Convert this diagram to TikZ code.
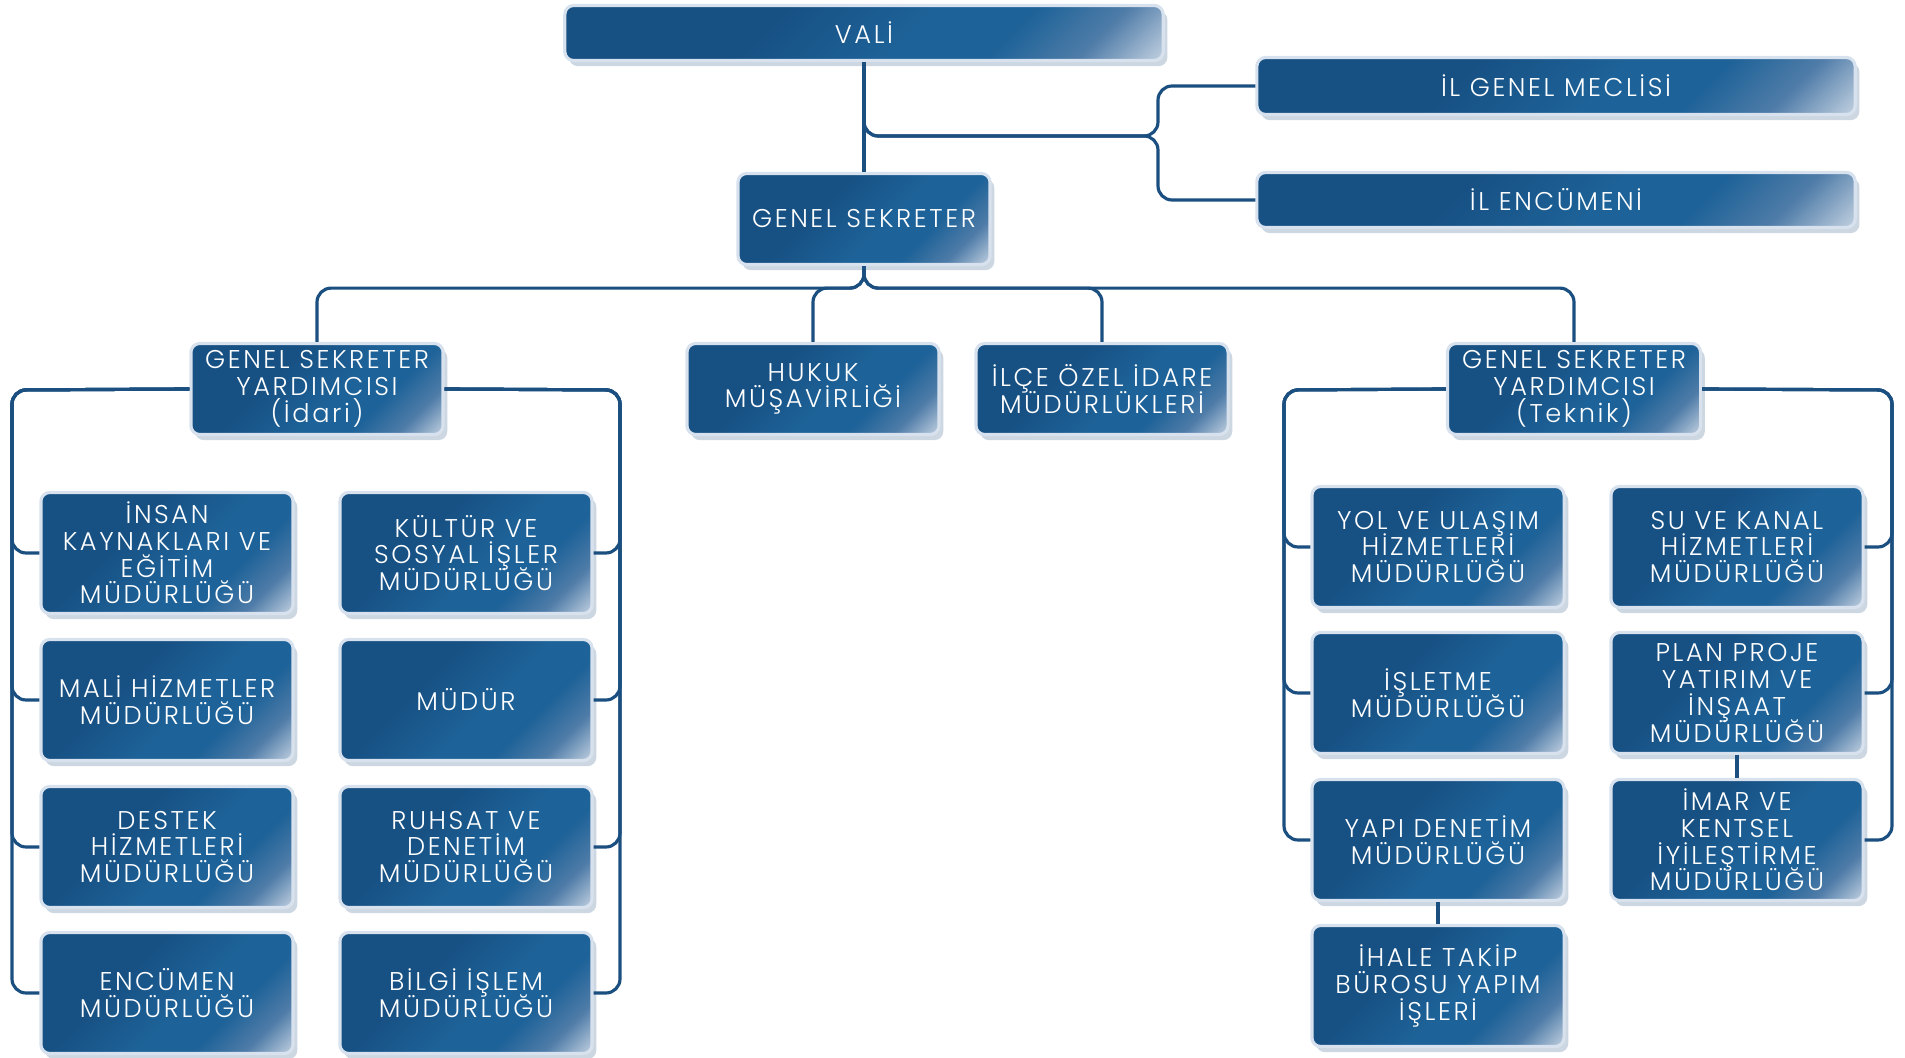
\documentclass[tikz,border=0pt]{standalone}
\usepackage{fontspec}
\setmainfont{Poppins}[UprightFont={* Light}, LetterSpace=10]
\usepackage{tikz}
\usepackage{xcolor}
\usetikzlibrary{shadows}

\definecolor{boxdark}{HTML}{175083}
\definecolor{boxblue}{HTML}{1D6298}
\definecolor{boxmid}{HTML}{4F7CA8}
\definecolor{boxlight}{HTML}{C9D6E4}
\definecolor{boxedge}{HTML}{D8E2EE}
\definecolor{lineblue}{HTML}{1B4F80}
\definecolor{glow}{HTML}{8FA6BF}

\newcommand{\unitfont}{\fontsize{7.3}{7.6}\selectfont\lineskiplimit-10pt\relax}

\pgfdeclarehorizontalshading{boxshade}{100bp}{color(0bp)=(boxdark); color(38bp)=(boxdark); color(55bp)=(boxblue); color(66bp)=(boxblue); color(76bp)=(boxmid); color(86bp)=(boxlight); color(100bp)=(boxlight)}

\tikzset{
  unit/.style={draw=boxedge, line width=0.9pt, rounded corners=2.5pt,
    shade, shading=boxshade, shading angle=-45,
    text=white, align=center, inner sep=1pt, font=\unitfont,
    drop shadow={shadow xshift=1.2pt, shadow yshift=-1.6pt, fill=glow, opacity=0.45}},
  top/.style={unit, minimum width=5.98cm, minimum height=0.55cm},
  head/.style={unit, minimum width=2.52cm, minimum height=0.91cm},
  dept/.style={unit, minimum width=2.52cm, minimum height=1.21cm},
  conn/.style={draw=lineblue, line width=0.9pt, rounded corners=4pt}
}

\begin{document}
\begin{tikzpicture}[x=0.01cm, y=-0.01cm]
  \useasboundingbox (0,0) rectangle (1905,1058);

  \node[top] (vali) at (864,33) {VALİ};
  \node[top, minimum height=0.57cm] (meclis) at (1556,86) {İL GENEL MECLİSİ};
  \node[top] (encumen) at (1556,200) {İL ENCÜMENİ};
  \node[head] (gs) at (864,219) {GENEL SEKRETER};

  \node[head] (idari) at (317,389) {GENEL SEKRETER\\YARDIMCISI\\(İdari)};
  \node[head] (hukuk) at (813,389) {HUKUK\\MÜŞAVİRLİĞİ};
  \node[head] (ilce) at (1102,389) {İLÇE ÖZEL İDARE\\MÜDÜRLÜKLERİ};
  \node[head, minimum width=2.53cm] (teknik) at (1574,389) {GENEL SEKRETER\\YARDIMCISI\\(Teknik)};

  \node[dept] (insan) at (167,553) {İNSAN\\KAYNAKLARI VE\\EĞİTİM\\MÜDÜRLÜĞÜ};
  \node[dept] (kultur) at (466,553) {KÜLTÜR VE\\SOSYAL İŞLER\\MÜDÜRLÜĞÜ};
  \node[dept] (mali) at (167,700) {MALİ HİZMETLER\\MÜDÜRLÜĞÜ};
  \node[dept] (mudur) at (466,700) {MÜDÜR};
  \node[dept] (destek) at (167,847) {DESTEK\\HİZMETLERİ\\MÜDÜRLÜĞÜ};
  \node[dept] (ruhsat) at (466,847) {RUHSAT VE\\DENETİM\\MÜDÜRLÜĞÜ};
  \node[dept] (encmud) at (167,993) {ENCÜMEN\\MÜDÜRLÜĞÜ};
  \node[dept] (bilgi) at (466,993) {BİLGİ İŞLEM\\MÜDÜRLÜĞÜ};

  \node[dept] (yol) at (1438,547) {YOL VE ULAŞIM\\HİZMETLERİ\\MÜDÜRLÜĞÜ};
  \node[dept] (su) at (1737,547) {SU VE KANAL\\HİZMETLERİ\\MÜDÜRLÜĞÜ};
  \node[dept] (isletme) at (1438,693) {İŞLETME\\MÜDÜRLÜĞÜ};
  \node[dept] (plan) at (1737,693) {PLAN PROJE\\YATIRIM VE\\İNŞAAT\\MÜDÜRLÜĞÜ};
  \node[dept] (yapi) at (1438,840) {YAPI DENETİM\\MÜDÜRLÜĞÜ};
  \node[dept] (imar) at (1737,840) {İMAR VE\\KENTSEL\\İYİLEŞTİRME\\MÜDÜRLÜĞÜ};
  \node[dept] (ihale) at (1438,986) {İHALE TAKİP\\BÜROSU YAPIM\\İŞLERİ};

  % connectors
  \coordinate (cbend) at (1158,136);
  \coordinate (ileft) at (12,390);
  \coordinate (iright) at (620,390);
  \coordinate (tleft) at (1284,390);
  \coordinate (tright) at (1892,390);

  \draw[conn] (vali) -- (gs);
  \draw[conn] (vali.south) |- (cbend) |- (meclis.west);
  \draw[conn] (vali.south) |- (cbend) |- (encumen.west);

  \foreach \n in {idari,hukuk,ilce,teknik}
    \draw[conn] (gs.south) -- ++(0,22) -| (\n.north);

  \foreach \n in {insan,mali,destek,encmud}
    \draw[conn] (idari.west) -- (ileft) |- (\n.west);
  \foreach \n in {kultur,mudur,ruhsat,bilgi}
    \draw[conn] (idari.east) -- (iright) |- (\n.east);
  \foreach \n in {yol,isletme,yapi}
    \draw[conn] (teknik.west) -- (tleft) |- (\n.west);
  \foreach \n in {su,plan,imar}
    \draw[conn] (teknik.east) -- (tright) |- (\n.east);
  \draw[conn] (yapi) -- (ihale);
  \draw[conn] (plan) -- (imar);
\end{tikzpicture}
\end{document}
